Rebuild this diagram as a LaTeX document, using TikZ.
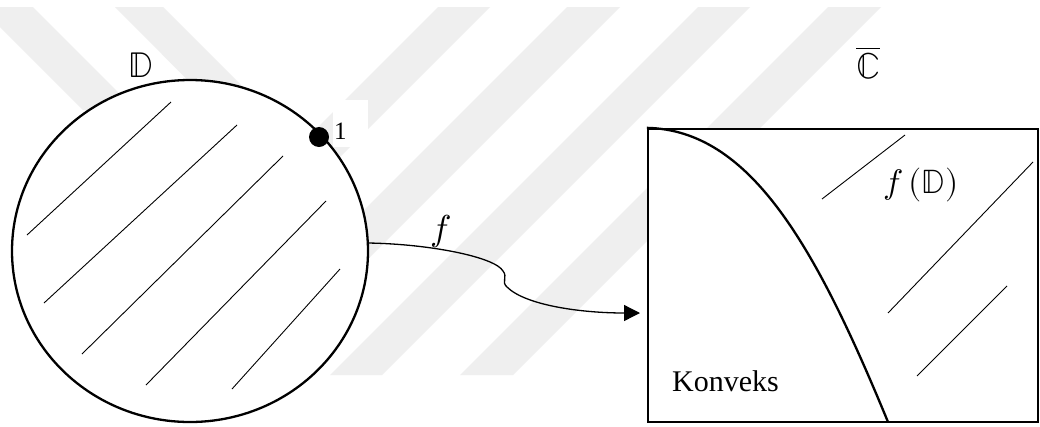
\documentclass[tikz,border=0pt]{standalone}
\usepackage{fontspec}
\usepackage{unicode-math}
\setmainfont{Liberation Serif}
\setmathfont{Latin Modern Math}
\usetikzlibrary{arrows.meta,shapes.geometric}
\definecolor{wm}{RGB}{239,239,239}
\begin{document}
\begin{tikzpicture}[x=1pt,y=-1pt,
  wmark/.style={fill=wm,draw=none},
  hatch/.style={line width=0.9pt},
  bold/.style={line width=2.3pt},
  lbl/.style={inner sep=0pt}]
\useasboundingbox (0,0) rectangle (1040,426);
\fill[white] (0,0) rectangle (1040,426);
% watermark stripes
\path[wmark] (0,7) -- (33,7) -- (136,110) -- (83,110) -- (0,27) -- cycle;
\path[wmark] (115,7) -- (163,7) -- (326,170) -- (302,195) -- cycle;
\path[wmark] (438,7) -- (490,7) -- (122,375) -- (70,375) -- cycle;
\path[wmark] (567,7) -- (620,7) -- (252,375) -- (199,375) -- cycle;
\path[wmark] (698,7) -- (750,7) -- (382,375) -- (330,375) -- cycle;
\path[wmark] (828,7) -- (881,7) -- (513,375) -- (460,375) -- cycle;
% white box behind label 1
\node[fill=white, minimum width=35pt, minimum height=47pt, inner sep=0pt] (onebox) at (350.5,123.5) {};
% disk
\node[ellipse, draw, bold, fill=white, minimum width=356pt, minimum height=342pt, inner sep=0pt] (disk) at (190,251) {};
\draw[hatch] (27,235) -- (171,102);
\draw[hatch] (44,303) -- (237,125);
\draw[hatch] (82,354) -- (283,156);
\draw[hatch] (146,385) -- (326,201);
\draw[hatch] (232,389) -- (340,269);
\node[circle, fill=black, minimum size=20pt, inner sep=0pt] (pt1) at (319,137) {};
\node[anchor=base west, inner sep=0pt, font=\fontsize{25}{30}\selectfont] (one) at (334,139) {1};
\node[lbl, font=\fontsize{36}{42}\selectfont] (dlab) at (141,65.5) {$\mathbb{D}$};
% image region
\node[draw, bold, fill=white, minimum width=390pt, minimum height=293pt, inner sep=0pt] (img) at (843,275.5) {};
\coordinate (bnd) at (888,422);
\draw[bold] (img.north west) .. controls (750,130) and (815,245) .. (bnd);
\draw[hatch] (822,199) -- (905,135);
\draw[hatch] (888,313) -- (1033,162);
\draw[hatch] (917,376) -- (1007,286);
\node[lbl, font=\fontsize{34}{40}\selectfont] (fdlab) at (921,185) {$f\,(\mathbb{D})$};
\node[anchor=base west, inner sep=0pt, font=\fontsize{30}{36}\selectfont] (konv) at (672,391) {Konveks};
\node[lbl, font=\fontsize{36}{42}\selectfont] (clab) at (868,63) {$\overline{\mathbb{C}}$};
% map arrow
\coordinate (fs) at (368,243);
\coordinate (ft) at (640,313);
\draw[line width=1.3pt, -{Triangle[length=16pt,width=16pt]}] (fs) .. controls (430,244) and (495,257) .. (503,271) .. controls (508,277) and (501,282) .. (507,287) .. controls (525,305) and (580,313) .. (ft);
\node[lbl, font=\fontsize{36}{42}\selectfont] (flab) at (441,231) {$f$};
\end{tikzpicture}
\end{document}
